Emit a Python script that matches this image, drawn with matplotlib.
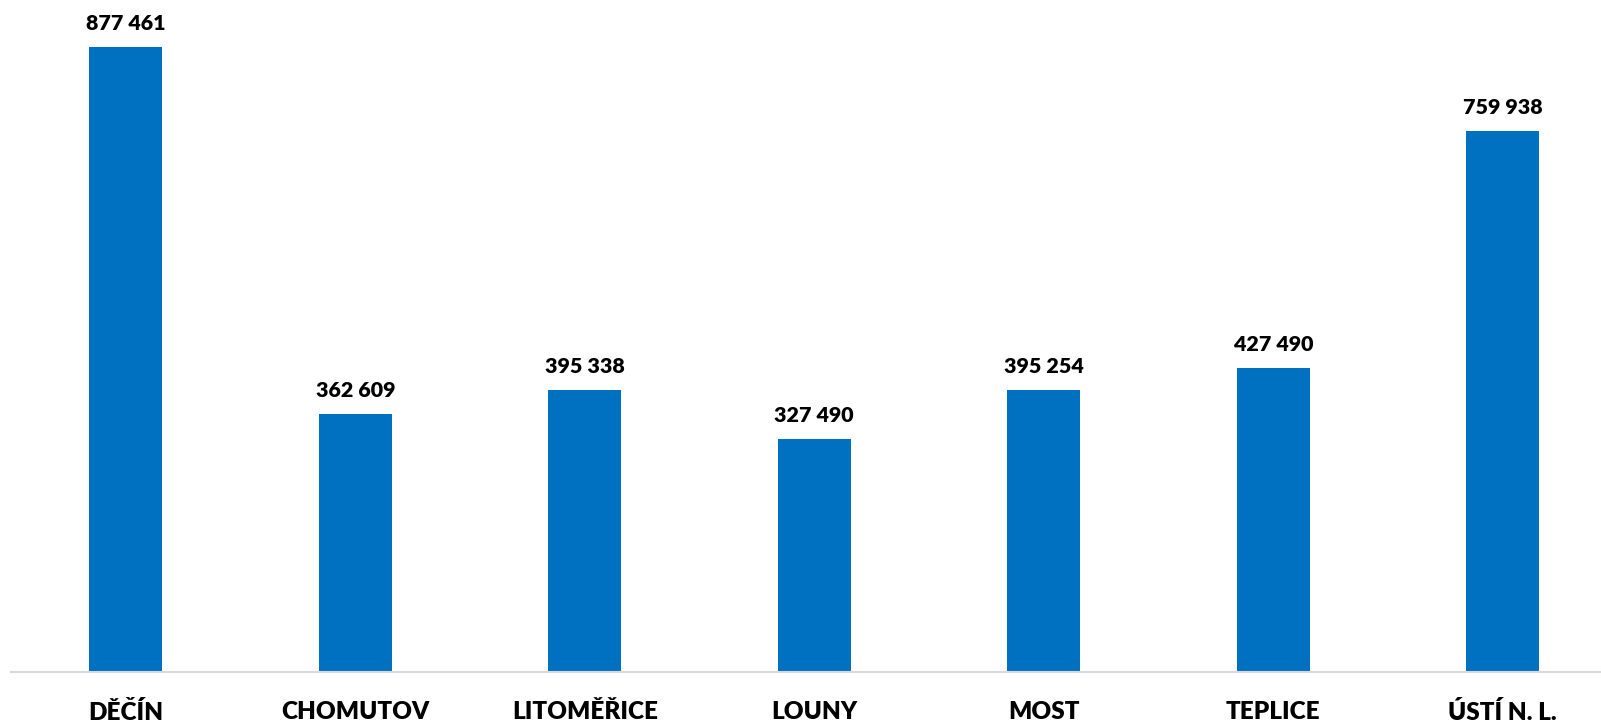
import matplotlib
matplotlib.use("Agg")
import matplotlib.pyplot as plt

categories = ["DĚČÍN", "CHOMUTOV", "LITOMĚŘICE", "LOUNY", "MOST", "TEPLICE", "ÚSTÍ N. L."]
values = [877461, 362609, 395338, 327490, 395254, 427490, 759938]
value_labels = ["877 461", "362 609", "395 338", "327 490", "395 254", "427 490", "759 938"]

W, H = 1601, 725
fig = plt.figure(figsize=(W / 100, H / 100), dpi=100)
left = 11 / W
width = 7 * 229.5 / W
bottom = (H - 672) / H
height = 672 / H
ax = fig.add_axes([left, bottom, width, height])

x = list(range(len(categories)))
ax.bar(x, values, width=0.318, color="#0070C0")
ax.set_xlim(-0.5, 6.5)
ax.set_ylim(0, 877461 * 672 / 625)

for xi, v, lab in zip(x, values, value_labels):
    ax.annotate(lab, (xi, v), xytext=(0, 14), textcoords="offset pixels",
                ha="center", va="bottom", fontsize=15.4, fontweight="heavy",
                family="Lato", color="black")

for s in ["top", "right", "left"]:
    ax.spines[s].set_visible(False)
ax.spines["bottom"].set_color("#D9D9D9")
ax.spines["bottom"].set_linewidth(1.5)
ax.set_yticks([])
ax.set_xticks(x)
ax.set_xticklabels(categories, fontsize=17.5, fontweight="heavy", family="Lato")
ax.tick_params(axis="x", length=0, pad=21)

fig.savefig("out.png", dpi=100)
